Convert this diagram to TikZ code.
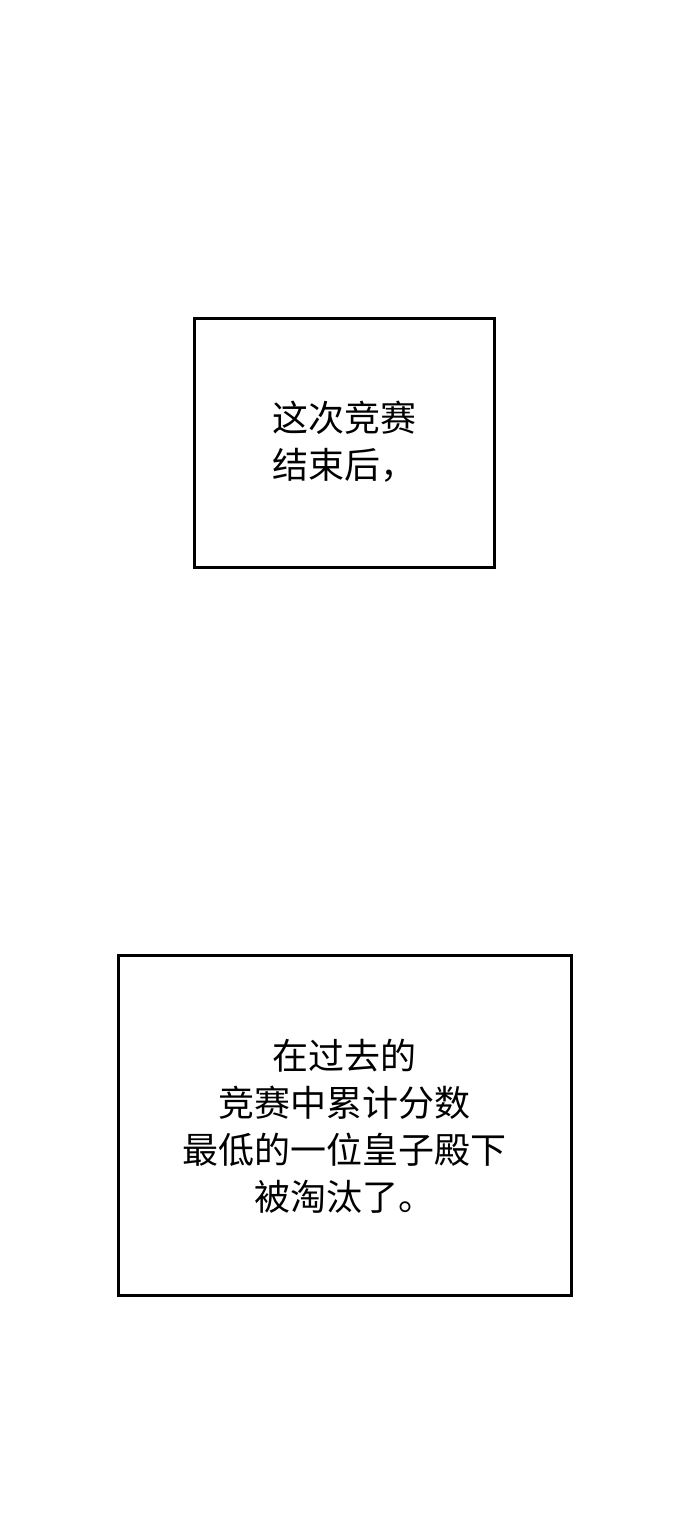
\documentclass[tikz,border=0pt]{standalone}
\usepackage{fontspec}
\newfontfamily\cjk{Noto Sans CJK SC}
\begin{document}
\begin{tikzpicture}[x=1pt,y=-1pt,
  panel/.style={draw=black,line width=3pt,fill=white},
  txt/.style={font=\cjk\fontsize{36}{47}\selectfont,inner sep=0pt}]
\useasboundingbox[fill=white] (0,0) rectangle (690,1530);
\draw[panel] (194,318) rectangle (494,567);
\node[txt,align=left] (t1) at (344,442) {这次竞赛\\结束后，};
\draw[panel] (118,955) rectangle (571,1295);
\node[txt,align=center] (t2) at (344,1126) {在过去的\\竞赛中累计分数\\最低的一位皇子殿下\\被淘汰了。};
\end{tikzpicture}
\end{document}
